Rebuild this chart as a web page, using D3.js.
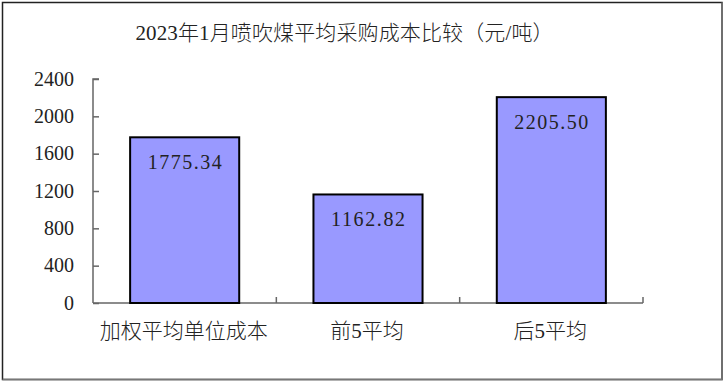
<!DOCTYPE html>
<html><head><meta charset="utf-8">
<script src="https://cdn.jsdelivr.net/npm/d3@7"></script>
<style>html,body{margin:0;padding:0;background:#fff;}svg{display:block;}</style>
</head><body>
<script>
const title = "2023年1月喷吹煤平均采购成本比较（元/吨）";
const categories = ["加权平均单位成本", "前5平均", "后5平均"];
const values = [1775.34, 1162.82, 2205.50];
const valueLabels = ["1775.34", "1162.82", "2205.50"];
const yTicks = [0, 400, 800, 1200, 1600, 2000, 2400];

const W = 726, H = 384;
const font = "'Liberation Serif', 'Noto Sans CJK SC', serif";
const svg = d3.select("body").append("svg").attr("width", W).attr("height", H);

svg.append("rect").attr("x", 0).attr("y", 0).attr("width", W).attr("height", H).attr("fill", "#fff");
// frame
svg.append("rect").attr("x", 2.5).attr("y", 2.5).attr("width", 719.5).attr("height", 377)
  .attr("fill", "none").attr("stroke", "#222").attr("stroke-width", 1.5);
svg.append("path").attr("d", "M722,2.5V379.5H2.5").attr("fill", "none").attr("stroke", "#777").attr("stroke-width", 1.5);

const x0 = 93, x1 = 643, y0 = 303, y1 = 79;
const x = d3.scaleBand().domain(categories).range([x0, x1]).paddingInner(0.405).paddingOuter(0.2025);
const y = d3.scaleLinear().domain([0, 2400]).range([y0, y1]);

svg.append("text").attr("x", 344.5).attr("y", 40).attr("text-anchor", "middle")
  .attr("font-family", font).attr("font-size", 21).attr("font-weight", 300).attr("fill", "#222")
  .attr("textLength", 418).attr("lengthAdjust", "spacing").text(title);

// y axis
const yAxis = svg.append("g").attr("transform", `translate(${x0},0)`)
  .call(d3.axisRight(y).tickValues(yTicks).tickSize(6).tickFormat(""));
yAxis.select(".domain").attr("stroke", "#666").attr("stroke-width", 1.5).attr("d", `M6,${y1}H0V${y0}`);
yAxis.selectAll(".tick line").attr("stroke", "#666").attr("stroke-width", 1.5);
svg.append("g").selectAll("text").data(yTicks).join("text")
  .attr("x", 74).attr("y", d => y(d)).attr("dy", "0.33em").attr("text-anchor", "end")
  .attr("font-family", font).attr("font-size", 20).attr("fill", "#222").text(d => d);

// x axis
const bounds = [1, 2, 3].map(i => x0 + (x1 - x0) * i / 3);
svg.append("line").attr("x1", x0).attr("x2", x1).attr("y1", y0).attr("y2", y0)
  .attr("stroke", "#666").attr("stroke-width", 1.5);
svg.append("g").selectAll("line").data(bounds).join("line")
  .attr("x1", d => d).attr("x2", d => d).attr("y1", y0).attr("y2", y0 - 6)
  .attr("stroke", "#666").attr("stroke-width", 1.5);

// bars
svg.append("g").selectAll("rect").data(values).join("rect")
  .attr("x", (d, i) => x(categories[i])).attr("y", d => y(d))
  .attr("width", x.bandwidth()).attr("height", d => y0 - y(d))
  .attr("fill", "#9999FF").attr("stroke", "#000").attr("stroke-width", 2);

svg.append("g").selectAll("text").data(values).join("text")
  .attr("x", (d, i) => x(categories[i]) + x.bandwidth() / 2).attr("y", d => y(d) + 25)
  .attr("dy", "0.35em").attr("text-anchor", "middle")
  .attr("font-family", font).attr("font-size", 20).attr("fill", "#222")
  .attr("textLength", 74).attr("lengthAdjust", "spacing")
  .text((d, i) => valueLabels[i]);

svg.append("g").selectAll("text").data(categories).join("text")
  .attr("x", d => x(d) + x.bandwidth() / 2 - 1).attr("y", 331).attr("dy", "0.35em")
  .attr("text-anchor", "middle").attr("font-family", font).attr("font-size", 21).attr("font-weight", 300).attr("fill", "#222")
  .text(d => d);
</script>
</body></html>
